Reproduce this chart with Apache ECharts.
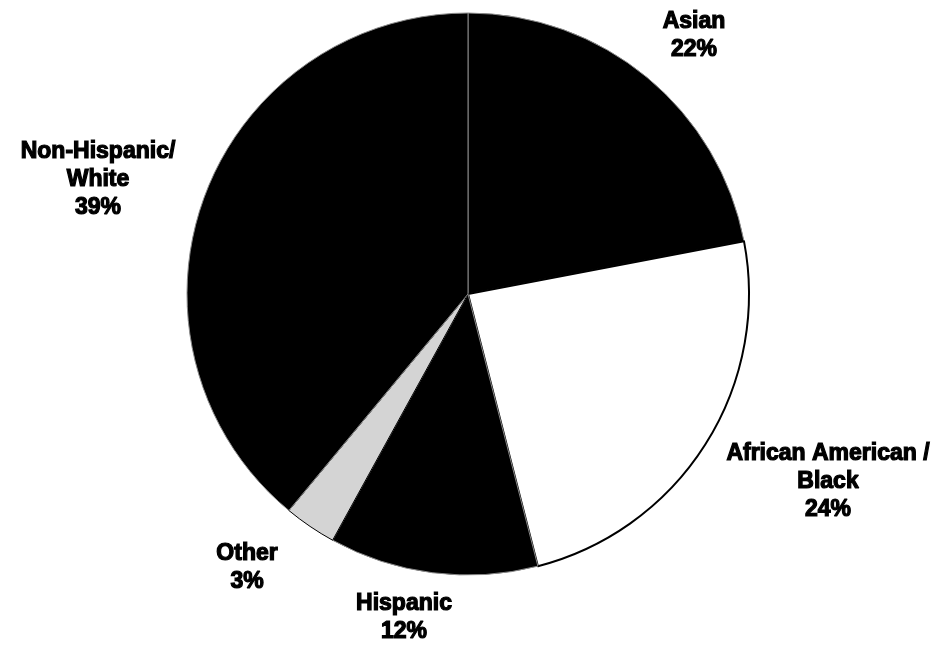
<!DOCTYPE html>
<html>
<head>
<meta charset="utf-8">
<script src="https://cdn.jsdelivr.net/npm/echarts@6/dist/echarts.min.js"></script>
<style>html,body{margin:0;padding:0;background:#fff;}#c{width:939px;height:647px;}</style>
</head>
<body>
<div id="c"></div>
<script>
const categories = ['Asian', 'African American /\nBlack', 'Hispanic', 'Other', 'Non-Hispanic/\nWhite'];
const values = [22, 24, 12, 3, 39];
const sliceColors = ['#000000', '#ffffff', '#000000', '#d4d4d4', '#000000'];
const borderColors = ['#8a8a8a', '#000000', '#8a8a8a', '#000000', '#8a8a8a'];
const labelPos = [[694, 36], [828, 482], [404, 618], [247, 568], [98, 180]];

const chart = echarts.init(document.getElementById('c'));
chart.setOption({
  animation: false,
  backgroundColor: '#ffffff',
  series: [{
    type: 'pie',
    center: [468, 294],
    radius: 281,
    startAngle: 90,
    clockwise: true,
    data: categories.map((c, i) => ({
      name: c,
      value: values[i],
      itemStyle: { color: sliceColors[i], borderColor: borderColors[i], borderWidth: i === 1 ? 2 : 1 }
    })),
    label: {
      show: true,
      position: 'outside',
      formatter: p => p.name + '\n' + p.value + '%',
      fontFamily: 'Liberation Sans, Arial, sans-serif',
      fontWeight: 'bold',
      fontSize: 23,
      lineHeight: 28,
      color: '#000',
      textBorderColor: '#000',
      textBorderWidth: 1.2,
      align: 'center',
      overflow: 'none'
    },
    labelLine: { show: false },
    labelLayout: function (params) {
      const p = labelPos[params.dataIndex];
      return { x: p[0], y: p[1], align: 'center', verticalAlign: 'middle' };
    },
    emphasis: { disabled: true }
  }]
});
</script>
</body>
</html>
